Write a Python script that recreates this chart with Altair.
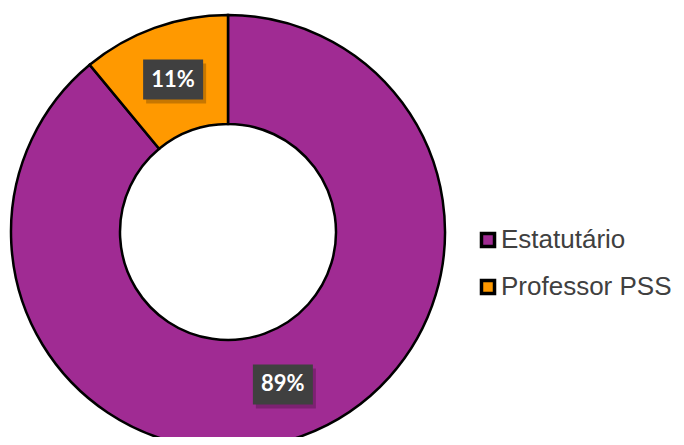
import altair as alt
import pandas as pd

categories = ["Estatutário", "Professor PSS"]
values = [89, 11]
labels = ["89%", "11%"]
order = [0, 1]
colors = ["#A02B93", "#FF9900"]

df = pd.DataFrame({"categoria": categories, "valor": values, "rotulo": labels, "ordem": order})

W, H = 668, 429
CX, CY = 220, 224
R_OUT, R_IN, R_LAB = 217, 108, 162
BW, BH = 30, 20

xs = alt.Scale(domain=[-CX, W - CX], nice=False, zero=False)
ys = alt.Scale(domain=[-(H - CY), CY], nice=False, zero=False)

base = alt.Chart(df)

arc = base.mark_arc(outerRadius=R_OUT, innerRadius=R_IN, stroke="black", strokeWidth=2.5).encode(
    theta=alt.Theta("valor:Q", stack=True),
    order=alt.Order("ordem:Q"),
    color=alt.Color(
        "categoria:N",
        scale=alt.Scale(domain=categories, range=colors),
        legend=alt.Legend(
            title=None,
            orient="none",
            legendX=467,
            legendY=219,
            symbolType="square",
            symbolSize=170,
            symbolStrokeColor="black",
            symbolStrokeWidth=3.5,
            symbolOpacity=1,
            labelFont="Liberation Sans",
            labelFontSize=26,
            labelColor="#404040",
            labelOffset=0,
            labelLimit=400,
            rowPadding=19,
            padding=0,
        ),
    ),
    x=alt.value(CX),
    y=alt.value(CY),
)

lab = base.transform_joinaggregate(total="sum(valor)").transform_window(
    cum="sum(valor)", sort=[alt.SortField("ordem")], frame=[None, 0]
).transform_calculate(
    ang="2*PI*(datum.cum - datum.valor/2)/datum.total",
).transform_calculate(
    px=f"{R_LAB}*sin(datum.ang)",
    py=f"{R_LAB}*cos(datum.ang)",
).transform_calculate(
    bx1=f"datum.px - {BW}", bx2=f"datum.px + {BW}",
    by1=f"datum.py - {BH}", by2=f"datum.py + {BH}",
    sx1=f"datum.px - {BW} + 3", sx2=f"datum.px + {BW} + 3",
    sy1=f"datum.py - {BH} - 4", sy2=f"datum.py + {BH} - 4",
)

shadow = lab.mark_rect(color="#000000", opacity=0.22).encode(
    x=alt.X("sx1:Q", scale=xs, axis=None), x2="sx2:Q",
    y=alt.Y("sy1:Q", scale=ys, axis=None), y2="sy2:Q",
)

box = lab.mark_rect(color="#404040").encode(
    x=alt.X("bx1:Q", scale=xs, axis=None), x2="bx2:Q",
    y=alt.Y("by1:Q", scale=ys, axis=None), y2="by2:Q",
)

text = lab.mark_text(color="white", fontWeight="bold", fontSize=22, font="Lato", baseline="middle", align="center").encode(
    x=alt.X("px:Q", scale=xs, axis=None),
    y=alt.Y("py:Q", scale=ys, axis=None),
    text="rotulo:N",
)

chart = alt.layer(arc, shadow, box, text).properties(
    width=W, height=H, padding=0,
    autosize=alt.AutoSizeParams(type="none"),
    background="white",
).configure_view(stroke=None)

chart.save("out.html", embed_options={"renderer": "svg", "actions": False})
